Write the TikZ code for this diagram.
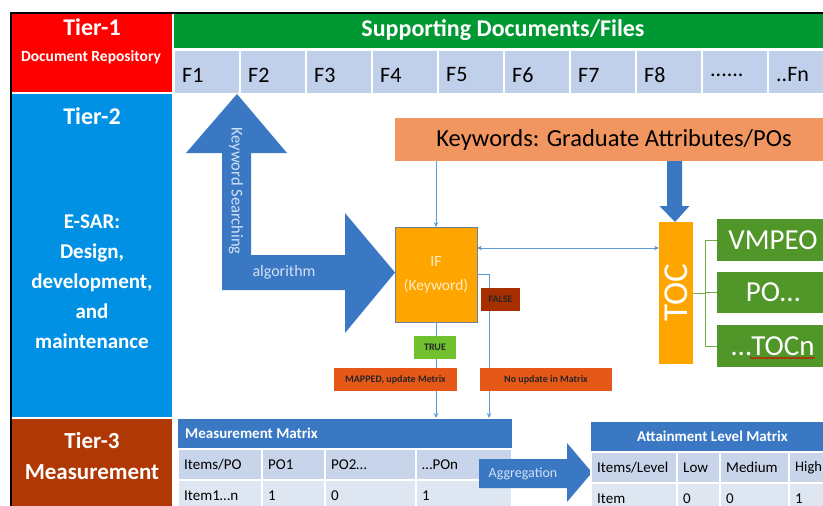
\documentclass[tikz,border=0pt]{standalone}
\usepackage{fontspec}
\setmainfont{Carlito}
\usetikzlibrary{calc,arrows.meta,decorations.pathmorphing}
\definecolor{tierred}{RGB}{255,0,0}
\definecolor{barGreen}{RGB}{0,152,50}
\definecolor{fBlue}{RGB}{192,208,234}
\definecolor{tiertwo}{RGB}{0,145,228}
\definecolor{tierthree}{RGB}{176,56,4}
\definecolor{arrowBlue}{RGB}{58,120,196}
\definecolor{kwOrange}{RGB}{241,150,96}
\definecolor{ifOrange}{RGB}{255,165,0}
\definecolor{ifBorder}{RGB}{110,130,160}
\definecolor{tocGreen}{RGB}{80,150,40}
\definecolor{falseBrown}{RGB}{168,48,0}
\definecolor{trueGreen}{RGB}{112,192,48}
\definecolor{lblOrange}{RGB}{230,88,24}
\definecolor{connBlue}{RGB}{91,155,213}
\definecolor{gLine}{RGB}{112,173,71}
\definecolor{rowone}{RGB}{200,212,234}
\definecolor{rowtwo}{RGB}{222,230,242}
\definecolor{lightTxt}{RGB}{210,225,245}
\definecolor{ifTxt}{RGB}{255,238,200}
\newcommand\RB[7]{\node[blk,#6,minimum width={(#4-#2)*1pt},minimum height={(#5-#3)*1pt}] (#1) at (#2,#3) {#7};}
\newcommand\RBL[8]{\node[blk,#6,minimum width={(#4-#2)*1pt},minimum height={(#5-#3)*1pt}] (#1) at (#2,#3) {};\node[anchor=west,inner sep=0pt,#7] (#1t) at ([xshift=6pt]#1.west) {#8};}
\begin{document}
\begin{tikzpicture}[x=1pt,y=-1pt,
  >={Stealth[length=5pt,width=4.5pt]},
  blk/.style={inner sep=0pt,outer sep=0pt,anchor=north west},
  fcell/.style={fill=fBlue,draw=white,line width=1.5pt},
  ftext/.style={inner sep=0pt,font=\fontsize{22}{26}\selectfont,text=black},
  hdr/.style={fill=arrowBlue},
  rA/.style={fill=rowone,draw=white,line width=1.5pt},
  rB/.style={fill=rowtwo,draw=white,line width=1.5pt},
  ttxt/.style={font=\fontsize{15}{18}\selectfont,text=black},
  wt/.style={text=white,inner sep=0pt},
  conn/.style={draw=connBlue,line width=0.9pt},
  lbl/.style={font=\bfseries\fontsize{10}{12}\selectfont,text=black!85},
  gline/.style={draw=gLine,line width=1pt},
]
\useasboundingbox (0,0) rectangle (823,506);
\clip (0,0) rectangle (823,506);
% tier column
\RB{t1}{12}{13.5}{172}{92}{fill=tierred}{}
\node[wt,font=\bfseries\fontsize{24}{28}\selectfont] (t1a) at (92,27) {Tier-1};
\node[wt,font=\bfseries\fontsize{15.5}{18}\selectfont] (t1b) at (91,57) {Document Repository};
\RB{t2}{12}{94}{172}{417}{fill=tiertwo}{}
\node[wt,font=\bfseries\fontsize{24}{28}\selectfont] (t2a) at (92,116) {Tier-2};
\node[wt,align=center,font=\bfseries\fontsize{21}{30}\selectfont] (t2b) at (92,282) {E-SAR:\\Design,\\development,\\and\\maintenance};
\RB{t3}{12}{419}{172}{520}{fill=tierthree}{}
\node[wt,font=\bfseries\fontsize{23}{27}\selectfont] (t3a) at (92,441) {Tier-3};
\node[wt,font=\bfseries\fontsize{23}{27}\selectfont] (t3b) at (92,472) {Measurement};
% tier 1 row
\RB{sd}{174}{13.5}{834}{48}{fill=barGreen}{}
\node[wt,font=\bfseries\fontsize{24}{28}\selectfont] (sdt) at (503,30) {Supporting Documents/Files};
\foreach \i in {1,...,10}{
  \pgfmathsetmacro\xa{174+66*(\i-1)}
  \node[blk,fcell,minimum width=66pt,minimum height=44pt] (F\i) at (\xa,50) {};
}
\foreach \i in {1,2,3,4,5,6,7,8}{
  \node[ftext,anchor=west] (Ft\i) at ([xshift=8pt,yshift=-3pt]F\i.west) {F\i};
}
\node[ftext,anchor=west] (Ft9) at ([xshift=8pt,yshift=-3pt]F9.west) {......};
\node[ftext,anchor=west] (Ft10) at ([xshift=8pt,yshift=-3pt]F10.west) {..Fn};
% border
\fill[black] (10,12) rectangle (12,506);
\fill[black] (10,12) rectangle (823,13.5);
% L-shaped arrow
\fill[arrowBlue] (237,94) -- (287,153) -- (251,153) -- (251,255) -- (345,255) -- (345,213)
  -- (395,272.5) -- (345,333) -- (345,290) -- (222,290) -- (222,153) -- (186,153) -- cycle;
\node[rotate=-90,text=lightTxt,inner sep=0pt,font=\fontsize{16.5}{19}\selectfont] (kst) at (236,191) {Keyword Searching};
\node[text=lightTxt,inner sep=0pt,font=\fontsize{16}{19}\selectfont] (alg) at (284,272) {algorithm};
% keywords, IF, TOC
\RB{kw}{395}{118}{832}{161}{fill=kwOrange}{}
\node[inner sep=0pt,font=\fontsize{24.5}{28}\selectfont] (kwt) at (614,140) {Keywords: Graduate Attributes/POs};
\RB{if}{395}{227}{477}{322}{fill=ifOrange,draw=ifBorder,line width=1pt}{}
\node[text=ifTxt,align=center,inner sep=0pt,font=\fontsize{15.5}{24}\selectfont] (ift) at (if.center) {IF\\(Keyword)};
\RB{toc}{659}{222}{693}{364}{fill=ifOrange}{}
\node[rotate=90,text=white,inner sep=0pt,font=\fontsize{35}{40}\selectfont] (toct) at (toc.center) {TOC};
\fill[arrowBlue] (667,161) -- (682,161) -- (682,206) -- (689.5,206) -- (675,222) -- (659.5,206) -- (667,206) -- cycle;
\RB{vm}{717}{219}{829}{261}{fill=tocGreen,text=white,font=\fontsize{29}{34}\selectfont}{VMPEO}
\RB{po}{717}{272}{829}{313}{fill=tocGreen,text=white,font=\fontsize{29}{34}\selectfont}{PO…}
\RB{tn}{717}{325}{829}{367}{fill=tocGreen,text=white,font=\fontsize{29}{34}\selectfont}{…TOCn}
\draw[red!85!black,line width=0.7pt,decorate,decoration={snake,amplitude=0.7pt,segment length=3pt}] (750,358) -- (815,358);
\coordinate (bx) at (705,0);
\draw[gline] (toc.east) -- (bx |- toc.east);
\draw[gline] (vm.west) -- (bx |- vm.west) -- (bx |- tn.west) -- (tn.west);
\draw[gline] (bx |- po.west) -- (po.west);
% measurement matrix header (needed for connectors)
\RB{mmh}{178}{419}{512}{448}{hdr}{}
\node[anchor=west,wt,font=\bfseries\fontsize{15}{18}\selectfont] (mmht) at ([xshift=7pt]mmh.west) {Measurement Matrix};
% connectors
\draw[conn,->] (if.north |- kw.south) -- (if.north);
\draw[conn,<->] ([yshift=26.5pt]if.east) -- ([yshift=26.5pt]if.east -| toc.west);
\coordinate (fx) at (489,0);
\draw[conn,->] (if.east) -| ([yshift=1pt]fx |- mmh.north);
\draw[conn,->] (if.south) -- ([yshift=1pt]if.south |- mmh.north);
% labels on connectors
\RB{fl}{481}{288}{520}{311}{fill=falseBrown,lbl}{FALSE}
\RB{tr}{414}{336}{456}{359}{fill=trueGreen,lbl}{TRUE}
\RB{mp}{334}{368}{457}{391}{fill=lblOrange,lbl}{MAPPED, update Metrix}
\RB{nu}{480}{368}{612}{391}{fill=lblOrange,lbl}{No update in Matrix}
% measurement matrix rows
\RBL{ma}{178}{449}{262}{480}{rA}{ttxt}{Items/PO}
\RBL{mb}{262}{449}{325}{480}{rA}{ttxt}{PO1}
\RBL{mc}{325}{449}{416}{480}{rA}{ttxt}{PO2…}
\RBL{md}{416}{449}{512}{480}{rA}{ttxt}{…POn}
\RBL{me}{178}{480}{262}{512}{rB}{ttxt}{Item1…n}
\RBL{mf}{262}{480}{325}{512}{rB}{ttxt}{1}
\RBL{mg}{325}{480}{416}{512}{rB}{ttxt}{0}
\RBL{mh}{416}{480}{512}{512}{rB}{ttxt}{1}
% aggregation arrow
\fill[arrowBlue] (479,459) -- (567,459) -- (567,443) -- (592,472.5) -- (567,502) -- (567,488) -- (479,488) -- cycle;
\node[text=lightTxt,inner sep=0pt,font=\fontsize{14}{17}\selectfont] (agt) at (523,474) {Aggregation};
% attainment level matrix
\RB{amh}{591}{422}{834}{451}{hdr}{}
\node[wt,font=\bfseries\fontsize{15}{18}\selectfont] (amht) at (amh.center) {Attainment Level Matrix};
\RBL{aa}{591}{452}{677}{483}{rA}{ttxt}{Items/Level}
\RBL{ab}{677}{452}{720}{483}{rA}{ttxt}{Low}
\RBL{ac}{720}{452}{791}{483}{rA}{ttxt}{Medium}
\RBL{ad}{789}{452}{840}{483}{rA}{ttxt,font=\fontsize{14.5}{17}\selectfont}{High}
\RBL{ae}{591}{483}{677}{514}{rB}{ttxt}{Item}
\RBL{af}{677}{483}{720}{514}{rB}{ttxt}{0}
\RBL{ag}{720}{483}{789}{514}{rB}{ttxt}{0}
\RBL{ah}{789}{483}{840}{514}{rB}{ttxt}{1}
\end{tikzpicture}
\end{document}
